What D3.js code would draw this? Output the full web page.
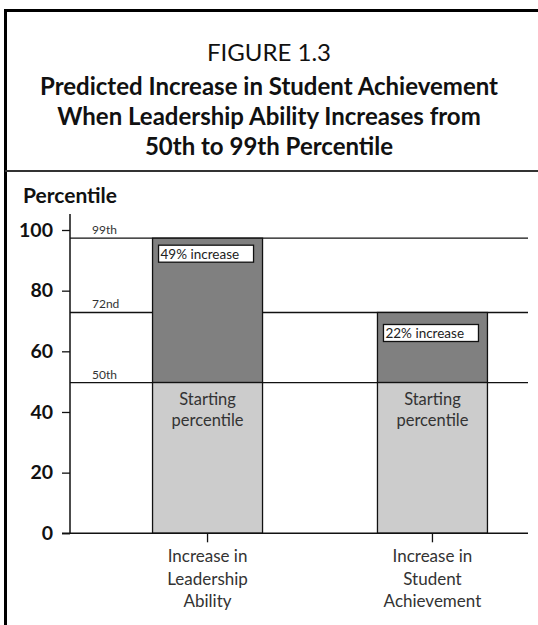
<!DOCTYPE html>
<html><head><meta charset="utf-8">
<script src="https://cdn.jsdelivr.net/npm/d3@7"></script>
<style>
html,body{margin:0;padding:0;background:#fff;}
svg{display:block;font-family:Lato, "Open Sans", sans-serif;}
</style></head>
<body><svg id="chart" width="538" height="625"></svg>
<script>
// ---- data ----
const categories = [["Increase in","Leadership","Ability"],["Increase in","Student","Achievement"]];
const startValues = [49.7, 49.7];
const endValues = [97.3, 72.8];
const increaseLabels = ["49% increase", "22% increase"];
const refLines = [97.3, 72.8, 49.7];
const refLabels = ["99th", "72nd", "50th"];
const yTicks = [0, 20, 40, 60, 80, 100];
const titleLines = ["Predicted Increase in Student Achievement","When Leadership Ability Increases from","50th to 99th Percentile"];

const svg = d3.select("#chart");
const txt = "#333";

// frame
svg.append("path").attr("d","M5.5,700 V10.5 H600").attr("fill","none").attr("stroke","#000").attr("stroke-width",3);
svg.append("line").attr("x1",5).attr("x2",538).attr("y1",171).attr("y2",171).attr("stroke","#333").attr("stroke-width",2);

// titles
svg.append("text").attr("x",269).attr("y",61).attr("text-anchor","middle").attr("font-size",24).attr("fill","#111").text("FIGURE 1.3");
svg.selectAll("text.tl").data(titleLines).join("text").attr("class","tl")
  .attr("x",269).attr("y",(d,i)=>95+i*30).attr("text-anchor","middle")
  .attr("font-size",24).attr("font-weight","bold").attr("fill","#111").text(d=>d);

svg.append("text").attr("x",23).attr("y",203).attr("font-size",21).attr("font-weight","bold").attr("fill","#111").text("Percentile");

// scales
const y = d3.scaleLinear().domain([0,100]).range([533.3,230]);
const x = d3.scaleBand().domain(d3.range(categories.length)).range([70,570]).paddingInner(0.511).paddingOuter(0.367);
const xRight = 528;

// reference lines
const g = svg.append("g");
g.selectAll("line.ref").data(refLines).join("line").attr("class","ref")
  .attr("x1",70).attr("x2",xRight).attr("y1",d=>y(d)).attr("y2",d=>y(d))
  .attr("stroke","#111").attr("stroke-width",1.3);
g.selectAll("text.ref").data(refLines).join("text").attr("class","ref")
  .attr("x",92).attr("y",d=>y(d)-4).attr("font-size",12).attr("fill",txt)
  .text((d,i)=>refLabels[i]);

// bars
const bars = svg.append("g");
bars.selectAll("rect.top").data(endValues).join("rect").attr("class","top")
  .attr("x",(d,i)=>x(i)).attr("width",x.bandwidth())
  .attr("y",d=>y(d)).attr("height",(d,i)=>y(startValues[i])-y(d))
  .attr("fill","#808080").attr("stroke","#111").attr("stroke-width",1.3);
bars.selectAll("rect.base").data(startValues).join("rect").attr("class","base")
  .attr("x",(d,i)=>x(i)).attr("width",x.bandwidth())
  .attr("y",d=>y(d)).attr("height",d=>y(0)-y(d))
  .attr("fill","#cccccc").attr("stroke","#111").attr("stroke-width",1.3);

// increase label boxes
const boxOff = [7, 12];
const lab = svg.append("g");
lab.selectAll("rect").data(endValues).join("rect")
  .attr("x",(d,i)=>x(i)+6).attr("y",(d,i)=>y(d)+boxOff[i]).attr("width",95).attr("height",17)
  .attr("fill","#fff").attr("stroke","#111").attr("stroke-width",1.3);
lab.selectAll("text").data(endValues).join("text")
  .attr("x",(d,i)=>x(i)+8).attr("y",(d,i)=>y(d)+boxOff[i]+13.5).attr("font-size",13.5).attr("fill","#222")
  .text((d,i)=>increaseLabels[i]);

// starting percentile labels
const sp = svg.append("g");
startValues.forEach((v,i)=>{
  ["Starting","percentile"].forEach((t,j)=>{
    sp.append("text").attr("x",x(i)+x.bandwidth()/2).attr("y",y(v)+22+j*21.5)
      .attr("text-anchor","middle").attr("font-size",16.5).attr("fill",txt).text(t);
  });
});

// y axis
const yAxis = svg.append("g").attr("transform","translate(70,0)")
  .call(d3.axisLeft(y).tickValues(yTicks).tickSize(8).tickPadding(9));
yAxis.select(".domain").attr("d",`M0,${y(0)}V214`).attr("stroke","#111").attr("stroke-width",1.5);
yAxis.selectAll(".tick line").attr("stroke","#111").attr("stroke-width",1.3);
yAxis.selectAll(".tick text").attr("font-size",19.5).attr("font-weight","bold").attr("fill","#111").attr("font-family","Lato, sans-serif");

// baseline
svg.append("line").attr("x1",62).attr("x2",xRight).attr("y1",y(0)).attr("y2",y(0)).attr("stroke","#111").attr("stroke-width",1.5);

// category ticks and labels
const cat = svg.append("g");
categories.forEach((lines,i)=>{
  const cx = x(i)+x.bandwidth()/2;
  cat.append("line").attr("x1",cx).attr("x2",cx).attr("y1",y(0)).attr("y2",y(0)+9).attr("stroke","#111").attr("stroke-width",1.3);
  lines.forEach((t,j)=>{
    cat.append("text").attr("x",cx).attr("y",562+j*22.5).attr("text-anchor","middle")
      .attr("font-size",17).attr("fill",txt).text(t);
  });
});
</script></body></html>
